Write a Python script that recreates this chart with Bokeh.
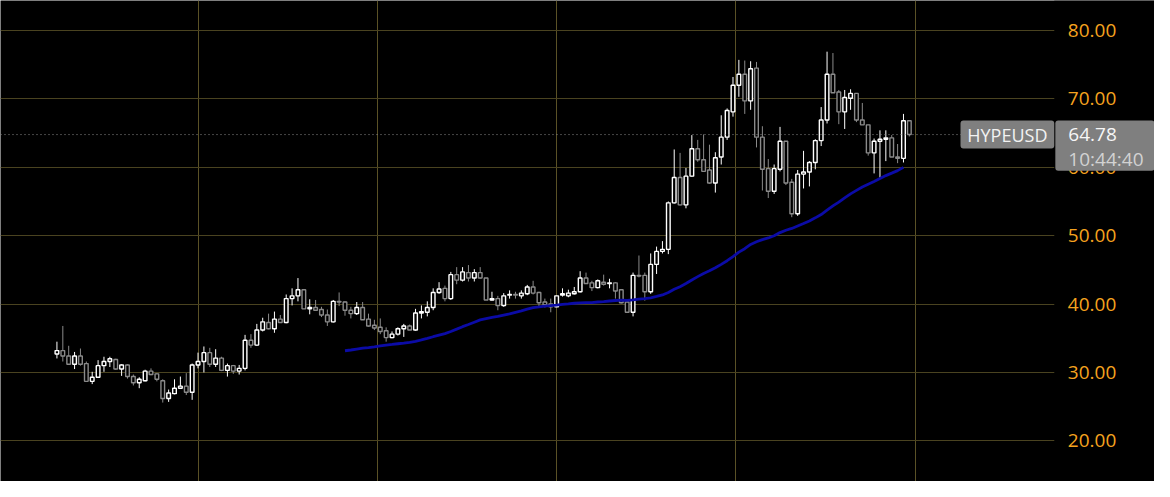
import numpy as np
import pandas as pd
from bokeh.plotting import figure
from bokeh.models import (ColumnDataSource, FixedTicker, NumeralTickFormatter, Label, Span,
                          BoxAnnotation)
from bokeh.embed import file_html
from bokeh.resources import INLINE

symbol = "HYPEUSD"
last_price = 64.78
clock_text = "10:44:40"
ma_period = 50

opens = [32.7, 33.2, 32.4, 31.2, 32.4, 31.3, 28.7, 29.3, 31.0, 31.6,
         31.9, 30.5, 31.1, 29.4, 28.5, 28.8, 30.2, 29.8, 28.8, 26.2,
         26.9, 27.7, 28.0, 27.1, 31.1, 31.6, 32.9, 31.2, 32.1, 30.3,
         31.0, 30.2, 30.6, 34.7, 34.0, 36.2, 37.3, 36.4, 37.8, 37.3,
         40.8, 41.2, 42.1, 39.3, 39.5, 39.2, 38.4, 37.4, 40.4, 40.3,
         39.1, 38.6, 39.5, 37.8, 36.9, 36.6, 36.1, 35.1, 35.6, 36.4,
         36.8, 36.2, 38.7, 38.8, 39.5, 41.7, 42.3, 40.8, 44.3, 43.5,
         44.6, 43.8, 44.6, 43.8, 40.6, 40.8, 39.8, 41.3, 41.4, 41.2,
         41.5, 42.5, 41.7, 40.3, 40.0, 39.6, 41.3, 41.2, 41.5, 41.8,
         43.8, 43.1, 42.4, 43.2, 43.0, 43.1, 42.1, 40.3, 38.8, 44.2,
         44.2, 41.8, 45.8, 47.7, 48.0, 54.8, 58.5, 54.5, 58.7, 62.7,
         61.1, 59.6, 57.7, 61.5, 64.4, 68.1, 72.0, 73.6, 69.7, 74.5,
         64.4, 59.8, 56.5, 59.7, 63.8, 57.8, 53.2, 59.0, 59.3, 60.7,
         63.9, 66.9, 73.6, 71.0, 68.1, 70.1, 70.8, 66.9, 66.2, 62.1,
         63.8, 64.1, 64.3, 61.5, 61.3, 66.8]
highs = [34.5, 36.8, 33.9, 33.0, 33.5, 31.6, 30.1, 31.8, 32.3, 32.3,
         32.0, 31.2, 31.2, 29.7, 29.3, 30.4, 30.6, 29.9, 29.0, 27.5,
         29.0, 29.4, 29.9, 31.3, 32.9, 33.8, 33.6, 33.4, 32.3, 31.3,
         31.1, 31.1, 35.5, 35.6, 37.1, 38.0, 38.6, 38.9, 38.4, 41.4,
         42.3, 43.8, 42.2, 40.7, 40.6, 39.6, 39.2, 40.6, 41.7, 40.4,
         39.6, 40.3, 40.3, 38.6, 37.7, 37.9, 36.6, 36.0, 36.6, 37.1,
         37.0, 39.3, 39.8, 40.4, 42.3, 43.2, 42.7, 44.7, 45.4, 45.4,
         45.7, 45.1, 45.4, 43.8, 41.8, 41.2, 41.6, 42.0, 41.8, 42.0,
         42.8, 43.4, 41.8, 40.8, 40.8, 41.2, 42.3, 42.1, 42.5, 44.8,
         44.6, 43.4, 43.6, 44.3, 43.7, 43.2, 42.2, 40.6, 44.6, 47.1,
         44.6, 47.4, 48.4, 49.2, 55.0, 62.6, 62.1, 59.9, 64.7, 64.0,
         64.8, 63.3, 62.2, 67.6, 68.6, 73.2, 75.7, 75.6, 75.5, 75.4,
         66.0, 61.2, 60.4, 65.9, 63.8, 58.3, 59.6, 62.4, 60.9, 64.1,
         68.8, 76.9, 76.7, 71.3, 71.3, 71.4, 70.8, 69.4, 66.2, 64.2,
         65.4, 65.4, 64.7, 63.4, 67.8, 66.8]
lows = [32.05, 31.6, 31.1, 30.5, 31.0, 28.7, 28.3, 29.2, 30.1, 30.8,
        30.4, 29.5, 29.1, 28.1, 27.7, 28.7, 29.6, 28.7, 25.6, 25.7,
        26.8, 27.6, 26.7, 26.0, 30.6, 30.0, 30.8, 30.8, 30.2, 29.4,
        29.8, 29.7, 30.3, 33.6, 33.9, 36.0, 36.3, 35.8, 37.3, 37.2,
        39.8, 40.4, 39.3, 38.5, 39.0, 38.1, 36.8, 37.3, 39.7, 38.3,
        37.9, 38.4, 37.7, 36.7, 36.2, 35.6, 34.5, 35.0, 35.4, 35.2,
        36.2, 36.1, 37.9, 38.2, 39.1, 41.5, 40.4, 40.6, 42.9, 43.3,
        43.3, 43.3, 43.7, 40.6, 40.5, 39.1, 39.6, 40.8, 40.8, 40.8,
        41.3, 41.4, 39.7, 39.5, 38.8, 39.6, 41.1, 41.0, 41.4, 41.7,
        43.0, 41.9, 42.3, 42.7, 42.3, 40.8, 40.1, 38.7, 38.2, 43.9,
        40.5, 41.5, 44.4, 47.4, 47.3, 54.7, 54.4, 54.0, 58.6, 60.8,
        59.4, 57.6, 56.3, 60.4, 64.0, 67.4, 70.3, 67.8, 68.4, 62.9,
        56.6, 55.5, 56.1, 59.4, 57.4, 52.7, 52.9, 56.9, 57.2, 59.7,
        63.1, 66.4, 70.9, 66.3, 65.6, 68.4, 66.6, 66.2, 61.7, 59.1,
        58.5, 60.9, 61.5, 60.6, 60.7, 64.5]
closes = [33.2, 32.4, 31.2, 32.4, 31.2, 28.7, 29.3, 31.0, 31.6, 32.0,
          30.5, 31.1, 29.4, 28.5, 29.0, 30.2, 29.7, 29.0, 26.2, 27.0,
          27.7, 28.0, 27.1, 31.1, 31.6, 32.9, 31.2, 32.1, 30.3, 31.0,
          30.2, 30.6, 34.7, 34.0, 36.2, 37.4, 36.4, 37.8, 37.3, 40.8,
          41.2, 42.1, 39.3, 39.5, 39.1, 38.4, 37.4, 40.4, 40.3, 39.1,
          38.6, 39.5, 37.7, 36.8, 36.5, 36.0, 35.1, 35.6, 36.4, 36.8,
          36.2, 38.7, 38.9, 39.5, 41.7, 42.2, 40.8, 44.3, 43.5, 44.7,
          43.8, 44.6, 43.8, 40.6, 40.8, 39.8, 41.2, 41.4, 41.3, 41.6,
          42.5, 41.6, 40.2, 39.9, 39.6, 41.2, 41.5, 41.6, 41.8, 43.8,
          43.0, 42.4, 43.4, 42.9, 43.1, 41.9, 40.2, 38.8, 44.2, 44.1,
          41.8, 45.8, 47.7, 48.0, 54.8, 58.5, 54.5, 58.7, 62.7, 61.1,
          59.4, 57.7, 61.4, 64.4, 68.3, 72.0, 73.6, 69.7, 74.4, 64.4,
          59.7, 56.5, 59.8, 63.8, 57.7, 53.2, 59.0, 59.3, 60.7, 63.9,
          66.9, 73.6, 70.9, 68.1, 70.2, 70.8, 66.9, 66.2, 62.1, 63.8,
          64.1, 64.3, 61.5, 61.3, 66.8, 64.78]

price_ticks = [20, 30, 40, 50, 60, 70, 80]
month_ticks = [24, 54.5, 85, 115.5, 146]

# ---------------------------------------------------------------
o = np.array(opens)
h = np.array(highs)
l = np.array(lows)
c = np.array(closes)
idx = np.arange(len(c))
up = c >= o
colors = np.where(up, "#ffffff", "#8a8a8a")

src = ColumnDataSource(dict(
    x=idx, o=o, h=h, l=l, c=c,
    top=np.maximum(o, c), bot=np.minimum(o, c), color=colors,
))

ma = pd.Series(c).rolling(ma_period).mean()
ma_src = ColumnDataSource(dict(x=idx[:-1], y=ma.values[:-1]))

# layout constants (bar-index units on x, price units on y)
W, H = 1154, 481
X_START, X_END = -9.6, 186.7
Y_START, Y_END = 14.06, 84.38
LABEL_SHIFT = 47        # price labels are drawn this far right of the axis anchor
AXIS_X = 172.2          # anchor so that labels end near the right of the scale
PANEL_X = 169.65        # where the price scale area begins
TAG_LEFT = 153.7        # left edge of the symbol tag
BOX_TOP, BOX_BOTTOM, TAG_BOTTOM = 66.85, 59.5, 62.74
CLOCK_Y = 61.26

p = figure(width=W, height=H, x_range=(X_START, X_END), y_range=(Y_START, Y_END),
           output_backend="svg", toolbar_location=None,
           x_axis_location=None, y_axis_location="left",
           background_fill_color="black", border_fill_color="black",
           min_border_left=0, min_border_top=0, min_border_bottom=0,
           min_border_right=0)
p.outline_line_color = None

ax = p.yaxis[0]
ax.fixed_location = AXIS_X
ax.ticker = FixedTicker(ticks=price_ticks)
ax.formatter = NumeralTickFormatter(format="0.00")
ax.major_label_text_color = "#f5a31f"
ax.major_label_text_font = "Open Sans"
ax.major_label_text_font_size = "19px"
ax.axis_line_color = None
ax.major_tick_line_color = None
ax.minor_tick_line_color = None
ax.major_tick_out = 0
ax.major_tick_in = 0
ax.major_label_standoff = -LABEL_SHIFT

p.ygrid.grid_line_color = "#4a4320"
p.ygrid.grid_line_width = 1
p.xgrid.ticker = FixedTicker(ticks=month_ticks)
p.xgrid.grid_line_color = "#5a5126"
p.xgrid.grid_line_width = 1

# the price-scale area has no grid lines
p.add_layout(BoxAnnotation(left=PANEL_X, fill_color="black", fill_alpha=1,
                           line_color=None, level="glyph"))

p.add_layout(Span(location=last_price, dimension="width", line_color="#8c8c8c",
                  line_dash="1 3", line_width=1))

p.segment(x0="x", y0="l", x1="x", y1="h", source=src, line_color="color", line_width=1)
p.vbar(x="x", width=0.62, top="top", bottom="bot", source=src,
       fill_color="black", line_color="color", line_width=1.4)

p.line(x="x", y="y", source=ma_src, line_color="#0b0ba6", line_width=2.8)

# symbol tag
p.add_layout(BoxAnnotation(left=TAG_LEFT, right=PANEL_X, top=BOX_TOP, bottom=TAG_BOTTOM,
                           fill_color="#7f7f7f", fill_alpha=1, line_color=None,
                           border_radius=3))
p.add_layout(Label(x=(TAG_LEFT + PANEL_X) / 2, y=last_price, text=symbol,
                   text_align="center", text_baseline="middle",
                   text_font="Open Sans", text_font_size="18px", text_color="#f2f2f2"))
# price / clock box
p.add_layout(BoxAnnotation(left=PANEL_X + 0.18, top=BOX_TOP, bottom=BOX_BOTTOM,
                           fill_color="#7f7f7f", fill_alpha=1, line_color=None,
                           border_radius=3))
p.add_layout(Label(x=PANEL_X + 0.18, x_offset=13, y=last_price, text=f"{last_price:.2f}",
                   text_align="left", text_baseline="middle",
                   text_font="Open Sans", text_font_size="19px", text_color="#f6f6f6"))
p.add_layout(Label(x=PANEL_X + 0.18, x_offset=13, y=CLOCK_Y, text=clock_text,
                   text_align="left", text_baseline="middle",
                   text_font="Open Sans", text_font_size="19px", text_color="#d2d2d2"))

open("out.html", "w").write(file_html(p, INLINE))
